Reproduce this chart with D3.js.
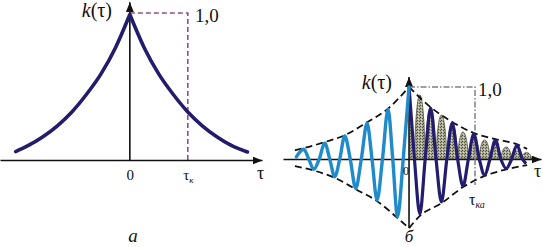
<!DOCTYPE html>
<html>
<head>
<meta charset="utf-8">
<script src="https://cdn.jsdelivr.net/npm/d3@7"></script>
<style>
  body { margin: 0; background: #fff; }
</style>
</head>
<body>
<script>
// panel а : k(τ) (τ in units of τк)
const tauA_left = [-1.97, -1.75, -1.5, -1.25, -1.0, -0.75, -0.5, -0.25, 0]
const kA_left = [0.058, 0.10, 0.16, 0.235, 0.33, 0.45, 0.59, 0.77, 1.0]
const tauA_right = [0, 0.25, 0.5, 0.75, 1.0, 1.25, 1.5, 1.75, 2.03]
const kA_right = [1.0, 0.77, 0.59, 0.45, 0.33, 0.235, 0.16, 0.10, 0.055]
const tauK = 1.0

// panel б : oscillating k(τ), extrema and zero crossings (τ in units of τка)
const tauB_neg = [-1.708, -1.595, -1.520, -1.444, -1.361, -1.277, -1.202, -1.126, -1.050, -0.974, -0.891,
                  -0.808, -0.723, -0.636, -0.561, -0.485, -0.402, -0.318, -0.247, -0.174, -0.088, 0]
const kB_neg = [0.03, 0.135, 0, -0.143, 0, 0.218, 0, -0.246, 0, 0.319, 0,
                -0.407, 0, 0.496, 0, -0.569, 0, 0.690, 0, -0.801, 0, 1.0]
const tauB_pos = [0, 0.082, 0.164, 0.245, 0.327, 0.409, 0.491, 0.573, 0.655, 0.736, 0.818, 0.900,
                  0.982, 1.064, 1.145, 1.227, 1.309, 1.391, 1.473, 1.555, 1.636, 1.718, 1.76]
const kB_pos = [1.0, 0, -0.764, 0, 0.708, 0, -0.597, 0, 0.500, 0, -0.375, 0,
                0.347, 0, -0.222, 0, 0.264, 0, -0.132, 0, 0.194, 0, -0.05]
// |k(τ)| lobes (grey area): centre and height
const lobeTau = [0.164, 0.327, 0.491, 0.655, 0.818, 0.982, 1.145, 1.309, 1.473, 1.636, 1.78]
const lobeK = [0.889, 0.722, 0.611, 0.486, 0.375, 0.319, 0.264, 0.222, 0.167, 0.111, 0.09]
const lobeHalf = 0.082
// dashed envelopes
const envUpL_tau = [-1.73, -1.595, -1.277, -0.974, -0.636, -0.318, 0]
const envUpL_k = [0.12, 0.15, 0.235, 0.33, 0.51, 0.70, 1.0]
const envLoL_tau = [-1.73, -1.444, -1.126, -0.808, -0.485, -0.174, 0]
const envLoL_k = [-0.10, -0.16, -0.26, -0.42, -0.585, -0.82, -0.96]
const envUpR_tau = [0, 0.327, 0.655, 0.982, 1.309, 1.636, 1.79]
const envUpR_k = [1.0, 0.72, 0.515, 0.36, 0.275, 0.205, 0.14]
const envLoR_tau = [0, 0.164, 0.491, 0.818, 1.145, 1.473, 1.79]
const envLoR_k = [-0.96, -0.79, -0.615, -0.39, -0.235, -0.145, -0.085]
const tauKa = 1.0

const FONT = '"Liberation Serif"'
const zip = (xs, ys) => xs.map((x, i) => [x, ys[i]])

const svg = d3.select("body").append("svg")
    .attr("width", 543)
    .attr("height", 247)

const defs = svg.append("defs")
defs.append("marker")
    .attr("id", "arrow")
    .attr("markerUnits", "userSpaceOnUse")
    .attr("markerWidth", 10).attr("markerHeight", 8)
    .attr("refX", 10).attr("refY", 4)
    .attr("orient", "auto")
  .append("path")
    .attr("d", "M0,0L10,4L0,8z")
    .attr("fill", "#111")

// speckled grey fill of the |k| lobes
const pat = defs.append("pattern")
    .attr("id", "speck")
    .attr("patternUnits", "userSpaceOnUse")
    .attr("width", 3).attr("height", 3)
pat.append("rect").attr("width", 3).attr("height", 3).attr("fill", "#acac92")
pat.append("rect").attr("x", 0).attr("y", 0).attr("width", 1).attr("height", 1).attr("fill", "#44443a")
pat.append("rect").attr("x", 2).attr("y", 1).attr("width", 1).attr("height", 1).attr("fill", "#56564a")
pat.append("rect").attr("x", 1).attr("y", 2).attr("width", 1).attr("height", 1).attr("fill", "#dcdccb")

// ---------- panel а ----------
const xA = d3.scaleLinear().domain([-2.24, 2.28]).range([0, 262])
const yA = d3.scaleLinear().domain([0, 1]).range([160, 14.5])
const lineA = d3.line().x(d => xA(d[0])).y(d => yA(d[1])).curve(d3.curveMonotoneX)

const gA = svg.append("g")

// correlation interval rectangle
gA.append("path")
    .attr("d", `M${xA(0)},${yA(1.01)}H${xA(tauK)}V${yA(0)}`)
    .attr("fill", "none")
    .attr("stroke", "#8e5283")
    .attr("stroke-width", 1.6)
    .attr("stroke-dasharray", "5,3")

const axA = gA.append("g")
    .attr("transform", `translate(0,${yA(0)})`)
    .call(d3.axisBottom(xA).tickValues([0, tauK]).tickSize(0).tickSizeOuter(0).tickPadding(9)
        .tickFormat(d => d === 0 ? "0" : "τ"))
axA.select(".domain").attr("stroke", "#111").attr("stroke-width", 1.6).attr("marker-end", "url(#arrow)")
axA.selectAll("text").attr("font-size", 15)
axA.selectAll(".tick").filter(d => d === tauK).select("text")
    .append("tspan").attr("font-size", 9).attr("font-style", "italic").attr("dy", 3).text("к")

gA.append("line")
    .attr("x1", xA(0)).attr("x2", xA(0))
    .attr("y1", yA(0)).attr("y2", yA(1.085))
    .attr("stroke", "#111").attr("stroke-width", 1.6)
    .attr("marker-end", "url(#arrow)")

gA.append("path")
    .attr("d", lineA(zip(tauA_left, kA_left)) + lineA(zip(tauA_right, kA_right)).replace("M", "L"))
    .attr("fill", "none")
    .attr("stroke", "#221c6c")
    .attr("stroke-width", 3.6)
    .attr("stroke-linejoin", "round")
    .attr("stroke-linecap", "round")

gA.append("text").attr("x", 112).attr("y", 17).attr("text-anchor", "end").attr("font-size", 20)
    .html('<tspan font-style="italic">k</tspan>(τ)')
gA.append("text").attr("x", 195).attr("y", 22).attr("font-size", 19).text("1,0")
gA.append("text").attr("x", 257).attr("y", 179).attr("font-size", 18).text("τ")
gA.append("text").attr("x", 133).attr("y", 242).attr("text-anchor", "middle")
    .attr("font-size", 19).attr("font-style", "italic").text("а")

// ---------- panel б ----------
const xB = d3.scaleLinear().domain([-1.91, 2.0]).range([283, 541])
const yB = d3.scaleLinear().domain([0, 1]).range([159, 87])
const lineB = d3.line().x(d => xB(d[0])).y(d => yB(d[1])).curve(d3.curveMonotoneX)
const areaB = d3.area().x(d => xB(d[0])).y0(yB(0)).y1(d => yB(d[1])).curve(d3.curveMonotoneX)
// arch from τ-half to τ+half, height k
const arch = (t, k) => {
  const x0 = xB(t - lobeHalf), x1 = xB(t + lobeHalf), w = x1 - x0
  const b = yB(0), c = yB(0) - (yB(0) - yB(k)) / 0.75
  return `M${x0},${b}C${x0 + 0.16 * w},${c} ${x1 - 0.16 * w},${c} ${x1},${b}Z`
}

const gB = svg.append("g")

defs.append("clipPath").attr("id", "above")
  .append("rect").attr("x", xB(0)).attr("y", 0).attr("width", 200).attr("height", yB(0))

// grey |k| lobes
gB.append("path")
    .attr("d", areaB(zip(tauB_pos.slice(0, 3), kB_pos.slice(0, 3))))
    .attr("clip-path", "url(#above)")
    .attr("fill", "url(#speck)")
gB.selectAll(".lobe")
    .data(lobeTau.map((t, i) => [t, lobeK[i]]))
    .join("path")
    .attr("class", "lobe")
    .attr("d", d => arch(d[0], d[1]))
    .attr("fill", "url(#speck)")
    .attr("stroke", "#3e3e32")
    .attr("stroke-width", 0.7)

// axes
const axB = gB.append("g")
    .attr("transform", `translate(0,${yB(0)})`)
    .call(d3.axisBottom(xB).tickValues([]).tickSize(0).tickSizeOuter(0))
axB.select(".domain").attr("stroke", "#111").attr("stroke-width", 1.6).attr("marker-end", "url(#arrow)")

gB.append("line")
    .attr("x1", xB(0)).attr("x2", xB(0))
    .attr("y1", yB(-0.96)).attr("y2", yB(1.14))
    .attr("stroke", "#111").attr("stroke-width", 1.6)
    .attr("marker-end", "url(#arrow)")

// τка rectangle, dash-dot
gB.append("path")
    .attr("d", `M${xB(0)},${yB(1)}H${xB(tauKa)}V${yB(-0.36)}`)
    .attr("fill", "none")
    .attr("stroke", "#808080")
    .attr("stroke-width", 1.5)
    .attr("stroke-dasharray", "6,2,1.5,2")

// envelopes
const envs = [[envUpL_tau, envUpL_k], [envLoL_tau, envLoL_k], [envUpR_tau, envUpR_k], [envLoR_tau, envLoR_k]]
gB.selectAll(".env")
    .data(envs.map(e => zip(e[0], e[1])))
    .join("path")
    .attr("class", "env")
    .attr("d", lineB)
    .attr("fill", "none")
    .attr("stroke", "#111")
    .attr("stroke-width", 1.8)
    .attr("stroke-dasharray", "7,4")

// oscillating curves
gB.append("path")
    .attr("d", lineB(zip(tauB_pos, kB_pos)))
    .attr("fill", "none")
    .attr("stroke", "#231d70")
    .attr("stroke-width", 3.2)
    .attr("stroke-linecap", "round")
gB.append("path")
    .attr("d", lineB(zip(tauB_neg, kB_neg)))
    .attr("fill", "none")
    .attr("stroke", "#1f8bcb")
    .attr("stroke-width", 3.4)
    .attr("stroke-linecap", "round")

gB.append("text").attr("x", 392).attr("y", 89).attr("text-anchor", "end").attr("font-size", 20)
    .html('<tspan font-style="italic">k</tspan>(τ)')
gB.append("text").attr("x", 478).attr("y", 96).attr("font-size", 19).text("1,0")
gB.append("text").attr("x", 534).attr("y", 177).attr("font-size", 18).text("τ")
gB.append("text").attr("x", 406).attr("y", 175).attr("text-anchor", "middle").attr("font-size", 12).text("0")
gB.append("text").attr("x", 469).attr("y", 205).attr("font-size", 16)
    .html('τ<tspan font-size="10" font-style="italic" dy="3">ка</tspan>')
gB.append("text").attr("x", 409).attr("y", 242).attr("text-anchor", "middle")
    .attr("font-size", 17).attr("font-style", "italic").text("б")

svg.selectAll("text").style("font-family", FONT).attr("fill", "#111")
</script>
</body>
</html>
